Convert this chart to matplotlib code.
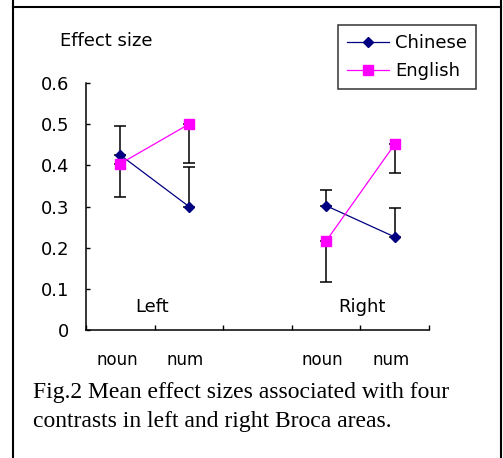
import numpy as np
import matplotlib
matplotlib.use("Agg")
import matplotlib.pyplot as plt
from matplotlib.lines import Line2D

# mean effect sizes, blank slot between hemispheres
conditions = ["noun", "num", "", "noun", "num"]
hemispheres = ["Left", "Right"]
chinese = [0.425, 0.300, np.nan, 0.302, 0.226]
english = [0.404, 0.500, np.nan, 0.216, 0.451]
chinese_err_up = [0.070, 0.097, np.nan, 0.038, 0.070]
english_err_down = [0.080, 0.095, np.nan, 0.100, 0.070]
yticks = [0, 0.1, 0.2, 0.3, 0.4, 0.5, 0.6]
caption = ["Fig.2 Mean effect sizes associated with four",
           "contrasts in left and right Broca areas."]

W, H = 503, 458
fig = plt.figure(figsize=(W / 100, H / 100), dpi=100)
ax = fig.add_axes([86 / W, 1 - 330 / H, 343 / W, 247 / H])

x = np.arange(len(conditions))
zeros = np.zeros(len(x))

# chinese: error bars upward only
ax.errorbar(x, chinese, yerr=[zeros, chinese_err_up], fmt="none",
            ecolor="black", elinewidth=1.1, capsize=4.3, capthick=1.1, zorder=2)
ax.plot(x, chinese, color="#000080", lw=0.9, marker="D", markersize=5.2,
        markerfacecolor="#000080", markeredgecolor="#000080", zorder=3,
        label="Chinese")

# english: error bars downward only
ax.errorbar(x, english, yerr=[english_err_down, zeros], fmt="none",
            ecolor="black", elinewidth=1.1, capsize=4.3, capthick=1.1, zorder=2)
ax.plot(x, english, color="#FF00FF", lw=0.9, marker="s", markersize=7.8,
        markerfacecolor="#FF00FF", markeredgecolor="#FF00FF", zorder=4,
        label="English")

ax.set_xlim(-0.5, len(x) - 0.5)
ax.set_ylim(0, 0.6)
ax.set_yticks(yticks)
ax.set_yticklabels(["0" if v == 0 else f"{v:.1f}" for v in yticks])
ax.set_xticks(np.arange(-0.5, len(x), 1.0))
ax.set_xticklabels([])
ax.tick_params(axis="y", direction="in", length=3, width=1, pad=12,
               labelsize=13)
ax.tick_params(axis="x", direction="in", length=3.5, width=1)
for s in ["top", "right"]:
    ax.spines[s].set_visible(False)
for s in ["left", "bottom"]:
    ax.spines[s].set_linewidth(1.1)

for xi, c in zip(x, conditions):
    if c:
        ax.text(xi - 0.05, -0.073, c, ha="center", va="center", fontsize=12,
                clip_on=False)

ax.text(0.46, 0.057, hemispheres[0], ha="center", va="center", fontsize=13)
ax.text(3.52, 0.057, hemispheres[1], ha="center", va="center", fontsize=13)

fig.text(60 / W, 1 - 41.5 / H, "Effect size", ha="left", va="center",
         fontsize=13)

leg = ax.legend(loc="upper left", bbox_to_anchor=(338 / W, 1 - 25 / H),
                bbox_transform=fig.transFigure, fontsize=13, frameon=True,
                fancybox=False, borderaxespad=0, borderpad=0.5,
                handlelength=2.3, handletextpad=0.35, labelspacing=0.55)
leg.get_frame().set_edgecolor("black")
leg.get_frame().set_linewidth(1.1)

for i, line in enumerate(caption):
    fig.text(33 / W, 1 - (397.7 + 29.6 * i) / H, line, ha="left",
             va="baseline", fontsize=17, family="Liberation Serif")

# table cell borders
for xs, ys in [([13, 13], [0, H]), ([501, 501], [0, H]), ([13, 501], [7, 7])]:
    fig.add_artist(Line2D([v / W for v in xs], [1 - v / H for v in ys],
                          color="black", lw=1.5))

fig.savefig("out.png", dpi=100)
